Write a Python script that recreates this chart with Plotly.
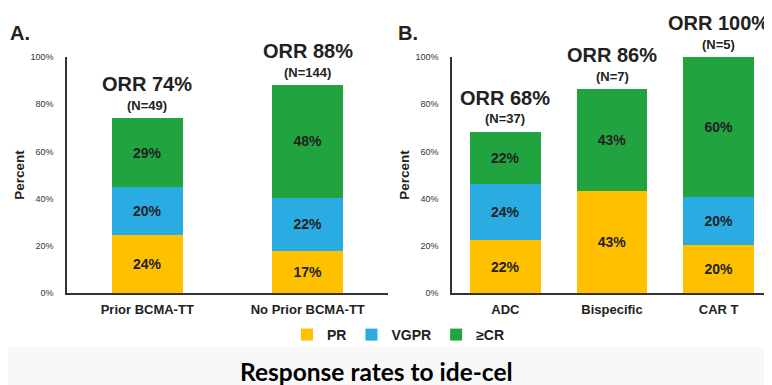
import plotly.graph_objects as go

# ---------------- data ----------------
cats_a = ["Prior BCMA-TT", "No Prior BCMA-TT"]
pr_a = [24.5, 17.8]
vgpr_a = [20.4, 22.5]
cr_a = [29.1, 47.8]
pr_a_lbl = ["24%", "17%"]
vgpr_a_lbl = ["20%", "22%"]
cr_a_lbl = ["29%", "48%"]
orr_a = ["ORR 74%", "ORR 88%"]
n_a = ["(N=49)", "(N=144)"]

cats_b = ["ADC", "Bispecific", "CAR T"]
pr_b = [22.3, 43.4, 20.2]
vgpr_b = [24.1, 0, 20.3]
cr_b = [22.0, 43.0, 59.5]
pr_b_lbl = ["22%", "43%", "20%"]
vgpr_b_lbl = ["24%", "", "20%"]
cr_b_lbl = ["22%", "43%", "60%"]
orr_b = ["ORR 68%", "ORR 86%", "ORR 100%"]
n_b = ["(N=37)", "(N=7)", "(N=5)"]

series_names = ["PR", "VGPR", "≥CR"]
colors = ["#FFC000", "#2AABE2", "#21A340"]
y_ticks = [0, 20, 40, 60, 80, 100]
y_tick_text = ["0%", "20%", "40%", "60%", "80%", "100%"]

FONT = "Liberation Sans, Arial, sans-serif"
# page has an 8px body margin: figure coordinates = page coordinates - 8
OFF = 8
W, H = 772 - OFF, 385 - OFF
T, B = 57 - OFF, 385 - 293
PH = H - T - B

def px_x(page_x):
    return (page_x - OFF) / W

def px_y(page_y):
    return (H - B - (page_y - OFF)) / PH

fig = go.Figure()

def add_panel(cats, vals, lbls, xa, ya, width, show):
    for name, v, l, c in zip(series_names, vals, lbls, colors):
        fig.add_trace(go.Bar(
            x=cats, y=v, name=name, marker_color=c, marker_line_width=0,
            width=width, text=l, texttemplate="%{text}",
            textposition="inside", insidetextanchor="middle", textangle=0,
            constraintext="none",
            textfont=dict(family=FONT, size=14, color="#222222", weight="bold"),
            xaxis=xa, yaxis=ya, showlegend=show, legendgroup=name,
            hoverinfo="skip"))

add_panel(cats_a, [pr_a, vgpr_a, cr_a], [pr_a_lbl, vgpr_a_lbl, cr_a_lbl], "x", "y", 0.44, True)
add_panel(cats_b, [pr_b, vgpr_b, cr_b], [pr_b_lbl, vgpr_b_lbl, cr_b_lbl], "x2", "y2", 0.665, False)

ann = []
def add_orr(cats, prs, vgs, crs, orrs, ns, xr, yr):
    for c, p, v, r, o, n in zip(cats, prs, vgs, crs, orrs, ns):
        tot = p + v + r
        ann.append(dict(x=c, y=tot, xref=xr, yref=yr, text=o, showarrow=False,
                        yanchor="middle", yshift=34,
                        font=dict(family=FONT, size=20, color="#222222", weight="bold")))
        ann.append(dict(x=c, y=tot, xref=xr, yref=yr, text=n, showarrow=False,
                        yanchor="middle", yshift=13,
                        font=dict(family=FONT, size=13, color="#222222", weight="bold")))

add_orr(cats_a, pr_a, vgpr_a, cr_a, orr_a, n_a, "x", "y")
add_orr(cats_b, pr_b, vgpr_b, cr_b, orr_b, n_b, "x2", "y2")

ann.append(dict(x=px_x(8), y=px_y(33), xref="paper", yref="paper", text="A.",
                showarrow=False, xanchor="left", yanchor="middle",
                font=dict(family=FONT, size=20, color="#222222", weight="bold")))
ann.append(dict(x=px_x(396), y=px_y(33), xref="paper", yref="paper", text="B.",
                showarrow=False, xanchor="left", yanchor="middle",
                font=dict(family=FONT, size=20, color="#222222", weight="bold")))
ann.append(dict(x=px_x(376), y=px_y(371), xref="paper", yref="paper",
                text="Response rates to ide-cel", showarrow=False,
                xanchor="center", yanchor="middle",
                font=dict(family="Lato, Carlito, Calibri, sans-serif", size=24.5,
                          color="#000000", weight="bold")))

xcommon = dict(showline=True, linecolor="#333333", linewidth=1.5, ticks="",
               showgrid=False, zeroline=False, fixedrange=True,
               tickfont=dict(family=FONT, size=13, color="#222222", weight="bold"),
               ticklabelstandoff=4)
ycommon = dict(range=[0, 100], tickvals=y_ticks, ticktext=y_tick_text,
               showline=True, linecolor="#333333", linewidth=1.5, ticks="",
               showgrid=False, zeroline=False, fixedrange=True,
               tickfont=dict(family=FONT, size=9, color="#333333"),
               ticklabelstandoff=10,
               title=dict(text="Percent", standoff=3,
                          font=dict(family=FONT, size=13.5, color="#222222", weight="bold")))

fig.update_layout(
    width=W, height=H, barmode="stack",
    margin=dict(l=0, r=0, t=T, b=B),
    paper_bgcolor="white", plot_bgcolor="white",
    xaxis=dict(domain=[px_x(67), px_x(388)], anchor="y", **xcommon),
    xaxis2=dict(domain=[px_x(452), 1.0], anchor="y2", **xcommon),
    yaxis=dict(anchor="x", **ycommon),
    yaxis2=dict(anchor="x2", **ycommon),
    legend=dict(orientation="h", x=px_x(287), xanchor="left", y=px_y(335), yanchor="middle",
                font=dict(family=FONT, size=14, color="#222222", weight="bold"),
                bgcolor="rgba(0,0,0,0)", traceorder="normal"),
    annotations=ann,
    shapes=[dict(type="rect", xref="paper", yref="paper", x0=0, x1=1,
                 y0=px_y(400), y1=px_y(347), fillcolor="#F8F8F8",
                 line_width=0, layer="below")],
    showlegend=True,
)

fig.write_html("out.html")
